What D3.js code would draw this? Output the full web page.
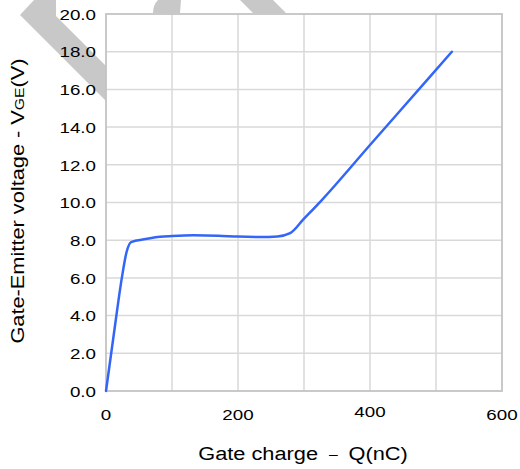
<!DOCTYPE html>
<html>
<head>
<meta charset="utf-8">
<script src="https://cdn.jsdelivr.net/npm/d3@7/dist/d3.min.js"></script>
<style>
  html, body { margin: 0; padding: 0; background: #ffffff; }
  svg { display: block; }
  text { font-family: "Liberation Sans", Arial, sans-serif; fill: #000; }
</style>
</head>
<body>
<svg id="chart" width="520" height="469"></svg>
<script>
// Gate charge characteristic: V_GE versus Q_G
const chargeNC = [0, 12, 24, 31, 38, 60, 82, 100, 132, 170, 200, 233, 260, 279, 299, 327, 400, 488, 524];
const voltageV = [0, 3.05, 6.0, 7.35, 7.9, 8.06, 8.18, 8.22, 8.26, 8.24, 8.19, 8.17, 8.2, 8.37, 9.1, 10.13, 13.05, 16.56, 18.0];

const xGridValues = [0, 100, 200, 300, 400, 500, 600];
const xTickValues = [0, 200, 400, 600];
const xTickLabels = ["0", "200", "400", "600"];
const yTickValues = [0, 2, 4, 6, 8, 10, 12, 14, 16, 18, 20];

const xTitle = ["Gate charge", "–", "Q(nC)"];
const yTitle = ["Gate-Emitter voltage - V", "GE", "(V)"];

const svg = d3.select("#chart");
const plot = { left: 106, right: 502, top: 14, bottom: 391 };
const stretch = 1.21;   // wide lettering

const x = d3.scaleLinear().domain([0, 600]).range([plot.left, plot.right]);
const y = d3.scaleLinear().domain([0, 20]).range([plot.bottom, plot.top]);

// light grey backdrop shapes behind the top-left corner
const deco = svg.append("g").attr("fill", "#c8c8c8");
deco.append("path").attr("d", "M34,0 L56,0 L56,16 L106,66 L106,101 L20,15 Z");
deco.append("path").attr("d", "M158,0 L181,0 L180,13 L153,13 Q153,5 158,0 Z");
deco.append("path").attr("d", "M240,0 L273,0 L286,13 L253,13 Z");

// plot background
svg.append("rect")
  .attr("x", plot.left).attr("y", plot.top)
  .attr("width", plot.right - plot.left).attr("height", plot.bottom - plot.top)
  .attr("fill", "#ffffff");

// grid
const grid = svg.append("g").attr("stroke", "#d9d9d9").attr("stroke-width", 1.5);
grid.selectAll("line.vx").data(xGridValues.slice(1, -1)).join("line")
  .attr("x1", d => x(d)).attr("x2", d => x(d))
  .attr("y1", plot.top).attr("y2", plot.bottom);
grid.selectAll("line.hy").data(yTickValues.slice(1, -1)).join("line")
  .attr("y1", d => y(d)).attr("y2", d => y(d))
  .attr("x1", plot.left).attr("x2", plot.right);

// frame
svg.append("rect")
  .attr("x", plot.left).attr("y", plot.top)
  .attr("width", plot.right - plot.left).attr("height", plot.bottom - plot.top)
  .attr("fill", "none").attr("stroke", "#c4c4c4").attr("stroke-width", 1.8);

// y tick labels
const fmt = d3.format(".1f");
svg.append("g").selectAll("text").data(yTickValues).join("text")
  .attr("transform", d => `translate(${plot.left - 10},${y(d) + 5.7}) scale(${stretch},1)`)
  .attr("text-anchor", "end")
  .attr("font-size", 15.5)
  .text(d => fmt(d));

// x tick labels
svg.append("g").selectAll("text").data(xTickValues).join("text")
  .attr("transform", d => `translate(${x(d)},${plot.bottom + (d === 400 ? 26 : 28.5)}) scale(${stretch},1)`)
  .attr("text-anchor", "middle")
  .attr("font-size", 15.5)
  .text((d, i) => xTickLabels[i]);

// curve
const line = d3.line()
  .x((d, i) => x(chargeNC[i]))
  .y((d, i) => y(voltageV[i]))
  .curve(d3.curveMonotoneX);
svg.append("path")
  .datum(voltageV)
  .attr("d", line)
  .attr("fill", "none")
  .attr("stroke", "#3366f8")
  .attr("stroke-width", 2.5)
  .attr("stroke-linejoin", "round")
  .attr("stroke-linecap", "round");

// x title
const xt = svg.append("text")
  .attr("transform", `translate(303,460) scale(${stretch},1)`)
  .attr("text-anchor", "middle")
  .attr("font-size", 18);
xt.append("tspan").text(xTitle[0]);
xt.append("tspan").attr("dx", 9).attr("font-size", 13).attr("dy", -1).text(xTitle[1]);
xt.append("tspan").attr("dx", 9).attr("dy", 1).text(xTitle[2]);

// y title
const yt = svg.append("text")
  .attr("transform", `translate(24,201) rotate(-90) scale(${stretch},1)`)
  .attr("text-anchor", "middle")
  .attr("font-size", 18);
yt.append("tspan").text(yTitle[0]);
yt.append("tspan").attr("font-size", 13).text(yTitle[1]);
yt.append("tspan").text(yTitle[2]);
</script>
</body>
</html>
